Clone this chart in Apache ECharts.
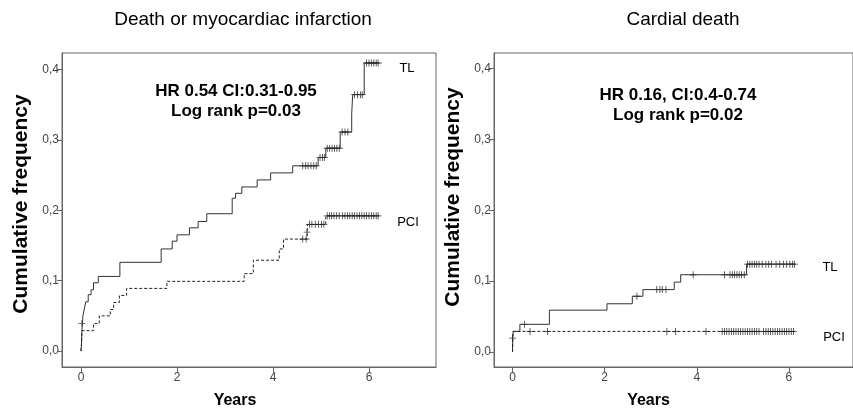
<!DOCTYPE html>
<html><head><meta charset="utf-8">
<script src="https://cdn.jsdelivr.net/npm/echarts@6/dist/echarts.min.js"></script>
<style>html,body{margin:0;padding:0;background:#fff}#c{width:853px;height:414px}</style>
</head><body><div id="c"></div>
<script>
// ---- data ----
const titles = ['Death or myocardiac infarction', 'Cardial death'];
const annot = [['HR 0.54 CI:0.31-0.95', 'Log rank p=0.03'], ['HR 0.16, CI:0.4-0.74', 'Log rank p=0.02']];
const groupNames = ['TL', 'PCI'];
const xTicks = [0, 2, 4, 6];
const yTicks = [0, 0.1, 0.2, 0.3, 0.4];
const yTickLabels = ['0,0', '0,1', '0,2', '0,3', '0,4'];

// Left: death or MI  [years, cumulative frequency]
const leftTL = [[0,0],[0.01,0.01],[0.015,0.02],[0.02,0.03],[0.03,0.04],[0.04,0.05],[0.06,0.057],[0.1,0.07],[0.15,0.08],[0.21,0.087],[0.26,0.097],[0.36,0.106],[0.81,0.126],[1.67,0.145],[1.9,0.156],[2.0,0.165],[2.26,0.175],[2.44,0.184],[2.62,0.195],[3.15,0.217],[3.22,0.224],[3.35,0.233],[3.67,0.243],[3.95,0.253],[4.41,0.263],[4.94,0.275],[5.1,0.288],[5.4,0.311],[5.64,0.337],[5.66,0.364],[5.9,0.409],[6.19,0.409]];
const leftTLCens = [[0.02,0.039],[4.62,0.263],[4.68,0.263],[4.73,0.263],[4.79,0.263],[4.85,0.263],[4.9,0.263],[4.98,0.275],[5.03,0.275],[5.07,0.275],[5.13,0.288],[5.18,0.288],[5.23,0.288],[5.28,0.288],[5.33,0.288],[5.38,0.288],[5.44,0.311],[5.5,0.311],[5.56,0.311],[5.7,0.364],[5.76,0.364],[5.82,0.364],[5.86,0.364],[5.95,0.409],[6.0,0.409],[6.05,0.409],[6.1,0.409],[6.15,0.409],[6.19,0.409]];
const leftPCI = [[0,0],[0.01,0.01],[0.015,0.02],[0.02,0.029],[0.26,0.039],[0.38,0.05],[0.61,0.059],[0.68,0.069],[0.8,0.079],[0.95,0.089],[1.79,0.099],[3.4,0.11],[3.59,0.129],[4.13,0.145],[4.22,0.159],[4.71,0.169],[4.72,0.18],[5.1,0.192],[6.19,0.192]];
const leftPCICens = [[4.62,0.159],[4.69,0.159],[4.71,0.169],[4.76,0.18],[4.81,0.18],[4.88,0.18],[4.95,0.18],[5.01,0.18],[5.06,0.18],[5.13,0.192],[5.18,0.192],[5.22,0.192],[5.27,0.192],[5.32,0.192],[5.38,0.192],[5.45,0.192],[5.5,0.192],[5.55,0.192],[5.6,0.192],[5.65,0.192],[5.7,0.192],[5.75,0.192],[5.8,0.192],[5.85,0.192],[5.9,0.192],[5.95,0.192],[6.0,0.192],[6.05,0.192],[6.1,0.192],[6.15,0.192],[6.19,0.192]];

// Right: cardial death
const rightTL = [[0,0],[0.005,0.022],[0.015,0.029],[0.16,0.039],[0.8,0.059],[2.05,0.068],[2.6,0.0786],[2.83,0.088],[3.51,0.0986],[3.65,0.109],[5.08,0.124],[6.12,0.124]];
const rightTLCens = [[0,0.0195],[0.26,0.039],[2.7,0.0786],[3.13,0.088],[3.2,0.088],[3.25,0.088],[3.33,0.088],[3.92,0.109],[4.6,0.109],[4.72,0.109],[4.77,0.109],[4.82,0.109],[4.87,0.109],[4.92,0.109],[4.97,0.109],[5.03,0.109],[5.1,0.124],[5.15,0.124],[5.2,0.124],[5.25,0.124],[5.3,0.124],[5.35,0.124],[5.42,0.124],[5.5,0.124],[5.56,0.124],[5.62,0.124],[5.72,0.124],[5.8,0.124],[5.88,0.124],[5.95,0.124],[6.02,0.124],[6.08,0.124],[6.12,0.124]];
const rightPCI = [[0,0],[0.01,0.029],[6.12,0.029]];
const rightPCICens = [[0.38,0.029],[0.76,0.029],[3.35,0.029],[3.54,0.029],[4.2,0.029],[4.55,0.029],[4.6,0.029],[4.65,0.029],[4.7,0.029],[4.75,0.029],[4.8,0.029],[4.85,0.029],[4.9,0.029],[4.95,0.029],[5.0,0.029],[5.05,0.029],[5.1,0.029],[5.15,0.029],[5.2,0.029],[5.25,0.029],[5.3,0.029],[5.35,0.029],[5.45,0.029],[5.5,0.029],[5.55,0.029],[5.6,0.029],[5.65,0.029],[5.7,0.029],[5.75,0.029],[5.8,0.029],[5.85,0.029],[5.9,0.029],[5.95,0.029],[6.0,0.029],[6.05,0.029],[6.1,0.029]];

// ---- chart ----
const FONT = '"Liberation Sans", Arial, sans-serif';
const plus = 'path://M0,4.4H10V5.6H0Z M4.4,0H5.6V10H4.4Z';
const chart = echarts.init(document.getElementById('c'), null, {renderer: 'canvas'});

function xAxis(idx, min, max) {
  return {
    type: 'value', gridIndex: idx, min: min, max: max,
    name: 'Years', nameLocation: 'middle', nameGap: 26,
    nameTextStyle: {fontFamily: FONT, fontSize: 16, fontWeight: 'bold', color: '#000', padding: idx === 0 ? [0, 28, 0, 0] : [0, 50, 0, 0]},
    axisLine: {show: true, onZero: false, lineStyle: {color: '#666', width: 1}},
    axisTick: {show: true, customValues: xTicks, length: 5, lineStyle: {color: '#666'}},
    axisLabel: {customValues: xTicks, fontFamily: FONT, fontSize: 12, color: '#444', margin: 5},
    splitLine: {show: false}
  };
}
function yAxis(idx, min, max) {
  return {
    type: 'value', gridIndex: idx, min: min, max: max,
    name: 'Cumulative frequency', nameLocation: 'middle', nameGap: 30,
    nameTextStyle: {fontFamily: FONT, fontSize: 21, fontWeight: 'bold', color: '#000', padding: idx === 0 ? [0, 0, 0, 12] : [0, 0, 0, 26]},
    axisLine: {show: true, onZero: false, lineStyle: {color: '#666', width: 1}},
    axisTick: {show: true, customValues: yTicks, length: 5, lineStyle: {color: '#666'}},
    axisLabel: {customValues: yTicks, fontFamily: FONT, fontSize: 12, color: '#444', margin: 3,
      formatter: function (v) { const i = yTicks.findIndex(t => Math.abs(t - v) < 1e-9); return i >= 0 ? yTickLabels[i] : ''; }},
    splitLine: {show: false}
  };
}
function stepSeries(idx, data, dashed) {
  return {
    type: 'line', xAxisIndex: idx, yAxisIndex: idx, data: data, step: 'end',
    showSymbol: false, symbol: 'none', silent: true, animation: false,
    lineStyle: {color: dashed ? '#222' : '#333', width: 1, type: dashed ? [3, 2] : 'solid'}
  };
}
function censSeries(idx, data) {
  return {
    type: 'scatter', xAxisIndex: idx, yAxisIndex: idx, data: data,
    symbol: plus, symbolSize: [7, 7], silent: true, animation: false,
    itemStyle: {color: '#111'}
  };
}
function txt(x, y, text, size, weight) {
  return {type: 'text', x: x, y: y, silent: true,
    style: {text: text, fontFamily: FONT, fontSize: size, fontWeight: weight || 'normal', fill: '#000', align: 'center', verticalAlign: 'middle'}};
}

chart.setOption({
  animation: false,
  backgroundColor: '#fff',
  grid: [
    {left: 62, top: 53, width: 374, height: 321, show: true, borderColor: '#666', borderWidth: 1, containLabel: false},
    {left: 494, top: 53, width: 374, height: 318, show: true, borderColor: '#666', borderWidth: 1, containLabel: false}
  ],
  xAxis: [xAxis(0, -0.396, 7.396), xAxis(1, -0.402, 7.39)],
  yAxis: [yAxis(0, -0.0226, 0.4232), yAxis(1, -0.0213, 0.4222)],
  series: [
    stepSeries(0, leftTL, false), stepSeries(0, leftPCI, true),
    censSeries(0, leftTLCens), censSeries(0, leftPCICens),
    stepSeries(1, rightTL, false), stepSeries(1, rightPCI, true),
    censSeries(1, rightTLCens), censSeries(1, rightPCICens)
  ],
  graphic: [
    txt(243, 20, titles[0], 19),
    txt(683, 20, titles[1], 19),
    txt(236, 91, annot[0][0], 17, 'bold'),
    txt(236, 111, annot[0][1], 17, 'bold'),
    txt(678, 95, annot[1][0], 17, 'bold'),
    txt(678, 115, annot[1][1], 17, 'bold'),
    txt(407, 68, groupNames[0], 13),
    txt(408, 222, groupNames[1], 13),
    txt(830, 267, groupNames[0], 13),
    txt(834, 337, groupNames[1], 13)
  ]
});
</script></body></html>
